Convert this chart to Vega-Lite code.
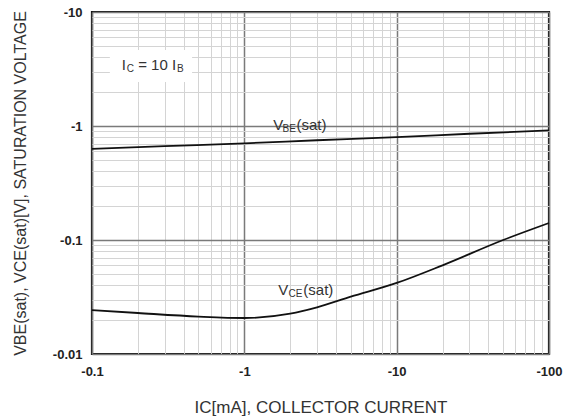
{
  "$schema": "https://vega.github.io/schema/vega-lite/v6.json",
  "width": 457,
  "height": 342,
  "autosize": {"type": "none"},
  "padding": {"left": 92, "top": 12, "right": 24, "bottom": 66},
  "background": "white",
  "config": {
    "view": {"stroke": "#111", "strokeWidth": 2.2},
    "font": "Liberation Sans"
  },
  "datasets": {
    "curves": [
      {"series": "VBE", "ic": 0.1, "v": 0.63},
      {"series": "VBE", "ic": 0.3, "v": 0.665},
      {"series": "VBE", "ic": 1, "v": 0.705},
      {"series": "VBE", "ic": 3, "v": 0.75},
      {"series": "VBE", "ic": 10, "v": 0.8},
      {"series": "VBE", "ic": 30, "v": 0.855},
      {"series": "VBE", "ic": 100, "v": 0.915},
      {"series": "VCE", "ic": 0.1, "v": 0.0243},
      {"series": "VCE", "ic": 0.2, "v": 0.0229},
      {"series": "VCE", "ic": 0.5, "v": 0.0213},
      {"series": "VCE", "ic": 1, "v": 0.0207},
      {"series": "VCE", "ic": 2, "v": 0.0226},
      {"series": "VCE", "ic": 3, "v": 0.0257},
      {"series": "VCE", "ic": 5, "v": 0.0318},
      {"series": "VCE", "ic": 10, "v": 0.042},
      {"series": "VCE", "ic": 20, "v": 0.06},
      {"series": "VCE", "ic": 50, "v": 0.1},
      {"series": "VCE", "ic": 100, "v": 0.141}
    ],
    "box": [{"x1": 0.131, "x2": 0.454, "y1": 2.43, "y2": 4.64}],
    "mainText": [
      {"label": "I", "x": 0.157, "y": 3.43},
      {"label": "= 10 I", "x": 0.201, "y": 3.43},
      {"label": "V", "x": 1.55, "y": 1.02},
      {"label": "(sat)", "x": 2.2, "y": 1.02},
      {"label": "V", "x": 1.67, "y": 0.0364},
      {"label": "(sat)", "x": 2.44, "y": 0.0364}
    ],
    "subText": [
      {"label": "C", "x": 0.169, "y": 3.43},
      {"label": "B", "x": 0.362, "y": 3.43},
      {"label": "BE", "x": 1.78, "y": 1.02},
      {"label": "CE", "x": 1.95, "y": 0.0364}
    ]
  },
  "layer": [
    {
      "data": {"name": "box"},
      "mark": {"type": "rect", "fill": "white", "stroke": null},
      "encoding": {
        "x": {"field": "x1", "type": "quantitative", "scale": {"type": "log", "domain": [0.1, 100]}},
        "x2": {"field": "x2"},
        "y": {"field": "y1", "type": "quantitative", "scale": {"type": "log", "domain": [0.01, 10]}},
        "y2": {"field": "y2"}
      }
    },
    {
      "data": {"name": "curves"},
      "mark": {"type": "line", "color": "#111", "strokeWidth": 1.8, "interpolate": "monotone"},
      "encoding": {
        "x": {
          "field": "ic", "type": "quantitative",
          "scale": {"type": "log", "domain": [0.1, 100]},
          "axis": {
            "values": [0.1,0.2,0.3,0.4,0.5,0.6,0.7,0.8,0.9,1,2,3,4,5,6,7,8,9,10,20,30,40,50,60,70,80,90,100],
            "labelExpr": "indexof([0.1,1,10,100], datum.value) >= 0 ? '-' + datum.value : ''",
            "grid": true,
            "gridColor": {"condition": {"test": "indexof([0.1,1,10,100], datum.value) >= 0", "value": "#7a7a7a"}, "value": "#d4d4d4"},
            "gridWidth": {"condition": {"test": "indexof([0.1,1,10,100], datum.value) >= 0", "value": 1.5}, "value": 1},
            "domain": false,
            "ticks": false,
            "labelFont": "Liberation Sans",
            "labelFontSize": 13,
            "labelFontWeight": "bold",
            "labelColor": "#222",
            "labelPadding": 11,
            "labelFlush": false,
            "labelOverlap": false,
            "title": "IC[mA], COLLECTOR CURRENT",
            "titleFont": "Liberation Sans",
            "titleFontSize": 17,
            "titleFontWeight": "normal",
            "titleColor": "#333",
            "titleY": 53,
            "titleBaseline": "middle"
          }
        },
        "y": {
          "field": "v", "type": "quantitative",
          "scale": {"type": "log", "domain": [0.01, 10]},
          "axis": {
            "values": [0.01,0.02,0.03,0.04,0.05,0.06,0.07,0.08,0.09,0.1,0.2,0.3,0.4,0.5,0.6,0.7,0.8,0.9,1,2,3,4,5,6,7,8,9,10],
            "labelExpr": "indexof([0.01,0.1,1,10], datum.value) >= 0 ? '-' + datum.value : ''",
            "grid": true,
            "gridColor": {"condition": {"test": "indexof([0.01,0.1,1,10], datum.value) >= 0", "value": "#7a7a7a"}, "value": "#d4d4d4"},
            "gridWidth": {"condition": {"test": "indexof([0.01,0.1,1,10], datum.value) >= 0", "value": 1.5}, "value": 1},
            "domain": false,
            "ticks": false,
            "labelFont": "Liberation Sans",
            "labelFontSize": 13,
            "labelFontWeight": "bold",
            "labelColor": "#222",
            "labelPadding": 10,
            "labelFlush": false,
            "labelOverlap": false,
            "title": "VBE(sat), VCE(sat)[V], SATURATION VOLTAGE",
            "titleFont": "Liberation Sans",
            "titleFontSize": 16,
            "titleFontWeight": "normal",
            "titleColor": "#333",
            "titleX": -72,
            "titleY": 171,
            "titleAngle": -90,
            "titleBaseline": "middle"
          }
        },
        "detail": {"field": "series"}
      }
    },
    {
      "data": {"name": "mainText"},
      "mark": {"type": "text", "align": "left", "baseline": "middle", "fontSize": 15, "color": "#333", "font": "Liberation Sans"},
      "encoding": {
        "x": {"field": "x", "type": "quantitative"},
        "y": {"field": "y", "type": "quantitative"},
        "text": {"field": "label"}
      }
    },
    {
      "data": {"name": "subText"},
      "mark": {"type": "text", "align": "left", "baseline": "middle", "fontSize": 10, "dy": 4, "color": "#333", "font": "Liberation Sans"},
      "encoding": {
        "x": {"field": "x", "type": "quantitative"},
        "y": {"field": "y", "type": "quantitative"},
        "text": {"field": "label"}
      }
    }
  ]
}
